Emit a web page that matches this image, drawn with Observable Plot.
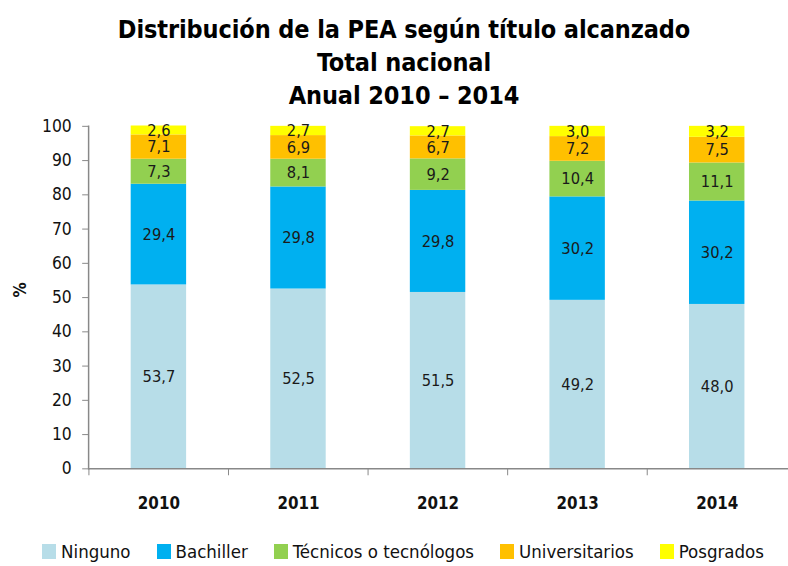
<!DOCTYPE html>
<html>
<head>
<meta charset="utf-8">
<script src="https://cdn.jsdelivr.net/npm/d3@7"></script>
<script src="https://cdn.jsdelivr.net/npm/@observablehq/plot@0.6"></script>
<style>
  html, body { margin: 0; padding: 0; background: #fff; overflow: hidden; width: 788px; height: 566px; }
  body { font-family: "DejaVu Sans Condensed", "DejaVu Sans", sans-serif; font-stretch: condensed; color: #000; }
  #title { position: absolute; top: 13px; left: 0; width: 808px; text-align: center; font-weight: bold; font-size: 25px; line-height: 33px; letter-spacing: -0.1px; }
  #chart { position: absolute; top: 110px; left: 0; }
  #legend { position: absolute; top: 541px; left: 0; width: 806px; display: flex; justify-content: center; gap: 26px; font-size: 18.5px; color: #111; }
  #legend .item { display: flex; align-items: center; gap: 5px; }
  #legend .sw { width: 14px; height: 15px; display: inline-block; }
</style>
</head>
<body>
<div id="title">Distribución de la PEA según título alcanzado<br>Total nacional<br>Anual 2010 – 2014</div>
<div id="chart"></div>
<div id="legend"></div>
<script>
const years = ["2010", "2011", "2012", "2013", "2014"];
const categories = ["Ninguno", "Bachiller", "Técnicos o tecnólogos", "Universitarios", "Posgrados"];
const colors = ["#b7dde8", "#00b0f0", "#92d050", "#ffc000", "#ffff00"];
const ninguno = [53.7, 52.5, 51.5, 49.2, 48.0];
const bachiller = [29.4, 29.8, 29.8, 30.2, 30.2];
const tecnicos = [7.3, 8.1, 9.2, 10.4, 11.1];
const universitarios = [7.1, 6.9, 6.7, 7.2, 7.5];
const posgrados = [2.6, 2.7, 2.7, 3.0, 3.2];
const yTicks = [0, 10, 20, 30, 40, 50, 60, 70, 80, 90, 100];

const series = [ninguno, bachiller, tecnicos, universitarios, posgrados];
const data = [];
series.forEach((vals, i) => {
  vals.forEach((v, j) => data.push({year: years[j], cat: categories[i], value: v}));
});

const fmt = v => v.toFixed(1).replace(".", ",");
const width = 796, marginLeft = 89, marginRight = 0;
const step = (width - marginLeft - marginRight) / years.length;

const plot = Plot.plot({
  width,
  height: 412,
  marginLeft,
  marginRight,
  marginTop: 16,
  marginBottom: 50,
  style: {fontFamily: '"DejaVu Sans Condensed", "DejaVu Sans", sans-serif', fontSize: "17px", color: "#111", background: "#fff"},
  x: {domain: years, paddingInner: 0.6, paddingOuter: 0.3, label: null},
  y: {domain: [0, 100], label: null},
  color: {domain: categories, range: colors},
  marks: [
    Plot.barY(data, Plot.stackY({x: "year", y: "value", fill: "cat", z: "cat", order: categories})),
    Plot.text(data, Plot.stackY({x: "year", y: "value", z: "cat", order: categories, text: d => fmt(d.value), fill: "#1a1a1a", fontSize: 16.5})),
    Plot.axisY({ticks: yTicks, tickSize: 6, tickPadding: 11, stroke: "#888", label: null, fontSize: 17.5}),
    Plot.axisX({tickSize: 0, tickPadding: 28, label: null, fontWeight: "bold", fontSize: 17}),
    Plot.axisX({tickSize: 7, tickFormat: () => "", dx: -step / 2, stroke: "#888", label: null}),
    Plot.ruleY([0], {stroke: "#888", strokeWidth: 1.5}),
    Plot.frame({anchor: "left", stroke: "#888", strokeWidth: 1.5}),
    Plot.text(["%"], {frameAnchor: "left", dx: -69, rotate: -90, fontWeight: "bold", fontSize: 17, fill: "#111"})
  ]
});
document.getElementById("chart").appendChild(plot);

const legend = document.getElementById("legend");
categories.forEach((c, i) => {
  const item = document.createElement("div");
  item.className = "item";
  const sw = document.createElement("span");
  sw.className = "sw";
  sw.style.background = colors[i];
  const t = document.createElement("span");
  t.textContent = c;
  item.appendChild(sw);
  item.appendChild(t);
  legend.appendChild(item);
});
</script>
</body>
</html>
